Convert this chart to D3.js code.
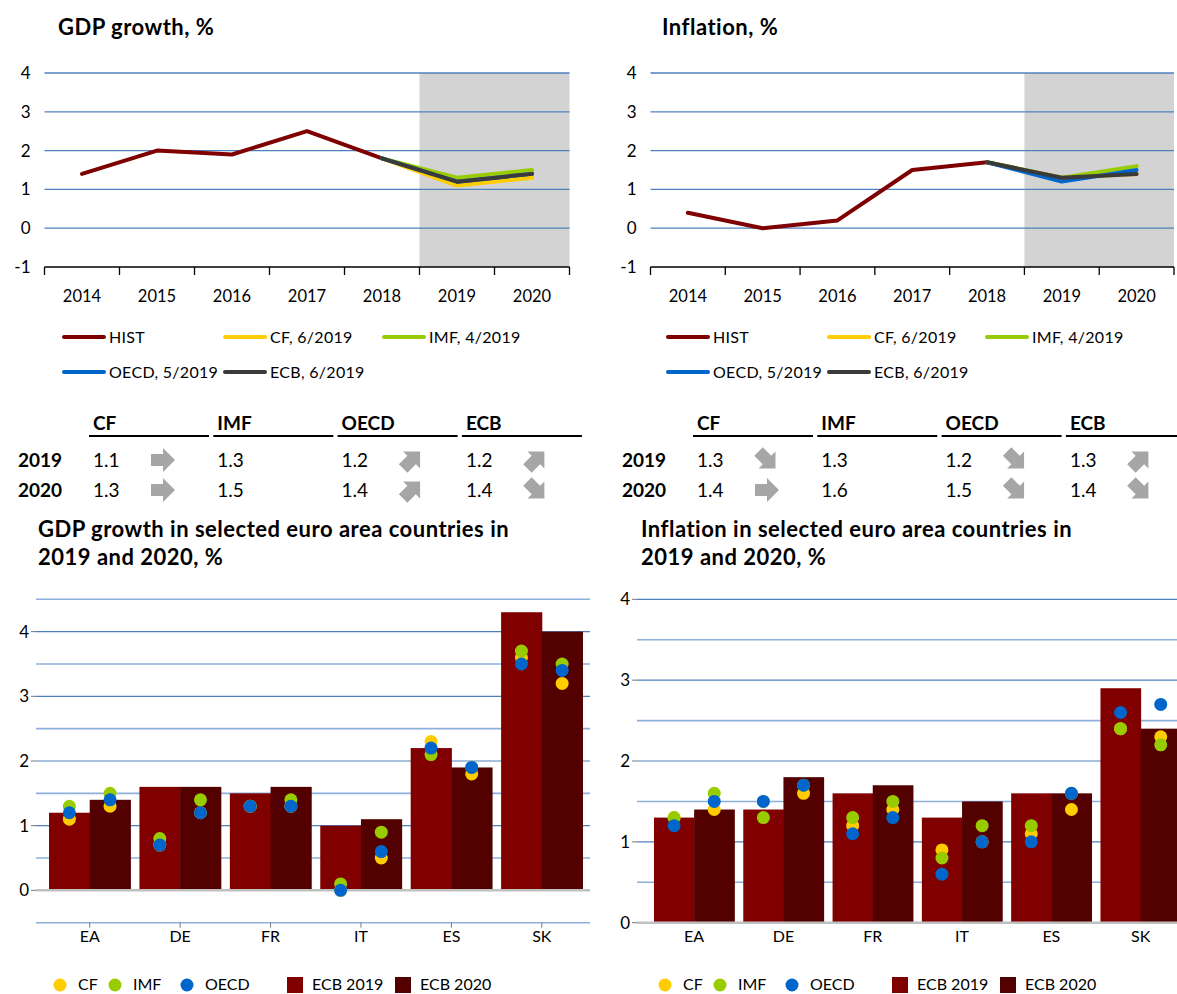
<!DOCTYPE html>
<html>
<head>
<meta charset="utf-8">
<script src="https://cdn.jsdelivr.net/npm/d3@7"></script>
<style>
  body { margin: 0; background: #fff; }
  text { font-family: Lato, "Open Sans", sans-serif; fill: #000; }
</style>
</head>
<body>
<svg id="chart" width="1177" height="994"></svg>
<script>
// line charts
let years = ['2014', '2015', '2016', '2017', '2018', '2019', '2020']
let gdpHist = [1.4, 2.0, 1.9, 2.5, 1.8]
let gdpCF = [1.1, 1.3]
let gdpIMF = [1.3, 1.5]
let gdpOECD = [1.2, 1.4]
let gdpECB = [1.2, 1.4]
let inflHist = [0.4, 0.0, 0.2, 1.5, 1.7]
let inflCF = [1.3, 1.4]
let inflIMF = [1.3, 1.6]
let inflOECD = [1.2, 1.5]
let inflECB = [1.3, 1.4]

// tables
let tableHeads = ['CF', 'IMF', 'OECD', 'ECB']
let tableYears = ['2019', '2020']
let gdpArrows = [['right', null, 'up', 'up'], ['right', null, 'up', 'down']]
let inflArrows = [['down', null, 'down', 'up'], ['right', null, 'down', 'down']]

// bar charts
let countries = ['EA', 'DE', 'FR', 'IT', 'ES', 'SK']
let gdpEcb2019 = [1.2, 1.6, 1.5, 1.0, 2.2, 4.3]
let gdpEcb2020 = [1.4, 1.6, 1.6, 1.1, 1.9, 4.0]
let gdpCF2019 = [1.1, 0.7, 1.3, 0.0, 2.3, 3.6]
let gdpIMF2019 = [1.3, 0.8, 1.3, 0.1, 2.1, 3.7]
let gdpOECD2019 = [1.2, 0.7, 1.3, 0.0, 2.2, 3.5]
let gdpCF2020 = [1.3, 1.2, 1.3, 0.5, 1.8, 3.2]
let gdpIMF2020 = [1.5, 1.4, 1.4, 0.9, 1.9, 3.5]
let gdpOECD2020 = [1.4, 1.2, 1.3, 0.6, 1.9, 3.4]
let inflEcb2019 = [1.3, 1.4, 1.6, 1.3, 1.6, 2.9]
let inflEcb2020 = [1.4, 1.8, 1.7, 1.5, 1.6, 2.4]
let inflCF2019 = [1.3, 1.5, 1.2, 0.9, 1.1, 2.4]
let inflIMF2019 = [1.3, 1.3, 1.3, 0.8, 1.2, 2.4]
let inflOECD2019 = [1.2, 1.5, 1.1, 0.6, 1.0, 2.6]
let inflCF2020 = [1.4, 1.6, 1.4, 1.0, 1.4, 2.3]
let inflIMF2020 = [1.6, 1.7, 1.5, 1.2, 1.6, 2.2]
let inflOECD2020 = [1.5, 1.7, 1.3, 1.0, 1.6, 2.7]

let colors = {
  HIST: '#7f0000', CF: '#ffcc00', IMF: '#99cc00', OECD: '#0066cc', ECB: '#3a3a3a',
  bar2019: '#800000', bar2020: '#520000', grid: '#4f81bd', gridLight: '#8eb0dc'
}

let svg = d3.select('#chart')

function lineChart(o) {
  let x = d3.scaleBand().domain(years).range([o.x0, o.x1])
  let y = d3.scaleLinear().domain([-1, 4]).range([267, 73])
  let g = svg.append('g')

  g.append('text').attr('x', o.titleX).attr('y', 35)
    .attr('font-size', 22).attr('letter-spacing', 0.5).attr('font-weight', 'bold').text(o.title)

  // forecast shading
  g.append('rect').attr('x', x('2019')).attr('y', y(4))
    .attr('width', o.x1 - x('2019')).attr('height', y(-1) - y(4))
    .attr('fill', '#d3d3d3')

  d3.range(0, 5).forEach(v => {
    g.append('line').attr('x1', o.x0).attr('x2', o.x1)
      .attr('y1', y(v)).attr('y2', y(v))
      .attr('stroke', colors.grid).attr('stroke-width', 1.3)
  })
  d3.range(-1, 5).forEach(v => {
    g.append('text').attr('x', o.x0 - 14).attr('y', y(v) + 6)
      .attr('text-anchor', 'end').attr('font-size', 17).text(v)
  })

  g.append('line').attr('x1', o.x0).attr('x2', o.x1)
    .attr('y1', y(-1)).attr('y2', y(-1)).attr('stroke', '#000').attr('stroke-width', 1.3)
  years.concat(['end']).forEach((yr, i) => {
    let xx = o.x0 + i * x.step()
    g.append('line').attr('x1', xx).attr('x2', xx).attr('y1', y(-1)).attr('y2', y(-1) + 8)
      .attr('stroke', '#000').attr('stroke-width', 1.3)
  })
  years.forEach(yr => {
    g.append('text').attr('x', x(yr) + x.bandwidth() / 2).attr('y', 302)
      .attr('text-anchor', 'middle').attr('font-size', 16.5).text(yr)
  })

  let line = d3.line().x(d => x(d[0]) + x.bandwidth() / 2).y(d => y(d[1]))
  let last = [years[4], o.hist[4]]
  let series = [
    ['HIST', o.hist.map((v, i) => [years[i], v])],
    ['CF', [last].concat(o.cf.map((v, i) => [years[5 + i], v]))],
    ['IMF', [last].concat(o.imf.map((v, i) => [years[5 + i], v]))],
    ['OECD', [last].concat(o.oecd.map((v, i) => [years[5 + i], v]))],
    ['ECB', [last].concat(o.ecb.map((v, i) => [years[5 + i], v]))]
  ]
  series.forEach(s => {
    g.append('path').attr('d', line(s[1])).attr('fill', 'none')
      .attr('stroke', colors[s[0]]).attr('stroke-width', 4)
      .attr('stroke-linejoin', 'round').attr('stroke-linecap', 'round')
  })

  // legend
  let leg = [
    ['HIST', 'HIST', 0, 0], ['CF', 'CF, 6/2019', 1, 0], ['IMF', 'IMF, 4/2019', 2, 0],
    ['OECD', 'OECD, 5/2019', 0, 1], ['ECB', 'ECB, 6/2019', 1, 1]
  ]
  leg.forEach(l => {
    let lx = o.legX[l[2]], ly = 337 + l[3] * 35
    g.append('line').attr('x1', lx).attr('x2', lx + 40).attr('y1', ly).attr('y2', ly)
      .attr('stroke', colors[l[0]]).attr('stroke-width', 4).attr('stroke-linecap', 'round')
    g.append('text').attr('x', lx + 45).attr('y', ly + 6).attr('font-size', 16)
      .attr('letter-spacing', 0.3).text(l[1])
  })
}

function arrow(g, cx, cy, dir) {
  let p = 'M-12,-6 L0,-6 L0,-12 L12,0 L0,12 L0,6 L-12,6 Z'
  let rot = dir === 'up' ? -45 : dir === 'down' ? 45 : 0
  g.append('path').attr('d', p).attr('fill', '#a6a6a6')
    .attr('transform', `translate(${cx},${cy}) rotate(${rot})`)
}

function table(o) {
  let g = svg.append('g')
  tableHeads.forEach((h, i) => {
    let cx = o.colX + i * 124.3
    g.append('text').attr('x', cx).attr('y', 430).attr('font-size', 19)
      .attr('font-weight', 'bold').text(h)
    g.append('line').attr('x1', cx - 4).attr('x2', cx + 116).attr('y1', 436).attr('y2', 436)
      .attr('stroke', '#000').attr('stroke-width', 2)
  })
  tableYears.forEach((yr, r) => {
    let ry = 467 + r * 30
    g.append('text').attr('x', o.rowX).attr('y', ry).attr('font-size', 19)
      .attr('font-weight', 'bold').text(yr)
    o.vals[r].forEach((v, i) => {
      let cx = o.colX + i * 124.3
      g.append('text').attr('x', cx).attr('y', ry).attr('font-size', 19).text(v.toFixed(1))
      if (o.arrows[r][i]) arrow(g, cx + 70, ry - 7, o.arrows[r][i])
    })
  })
}

function barChart(o) {
  let x = d3.scaleBand().domain(countries).range([o.bx0, o.bx1])
    .paddingInner(0.1).paddingOuter(0.05)
  let y = d3.scaleLinear().domain(o.domain).range([922.7, 599.3])
  let g = svg.append('g')

  g.append('text').attr('x', o.titleX).attr('y', 537).attr('font-size', 22)
    .attr('letter-spacing', 0.5).attr('font-weight', 'bold').text(o.title[0])
  g.append('text').attr('x', o.titleX).attr('y', 565).attr('font-size', 22)
    .attr('letter-spacing', 0.5).attr('font-weight', 'bold').text(o.title[1])

  d3.range(o.domain[0], o.domain[1] + 0.01, 0.5).forEach(v => {
    if (v === 0) return
    g.append('line').attr('x1', o.gx0).attr('x2', o.gx1).attr('y1', y(v)).attr('y2', y(v))
      .attr('stroke', Number.isInteger(v) ? colors.grid : colors.gridLight)
      .attr('stroke-width', Number.isInteger(v) ? 1.2 : 1.6)
  })
  d3.range(0, 5).forEach(v => {
    g.append('line').attr('x1', o.gx0 - 5).attr('x2', o.gx0).attr('y1', y(v)).attr('y2', y(v))
      .attr('stroke', '#777').attr('stroke-width', 1)
    g.append('text').attr('x', o.gx0 - 7).attr('y', y(v) + 6).attr('text-anchor', 'end')
      .attr('font-size', 17).text(v)
  })

  let sub = d3.scaleBand().domain(['2019', '2020']).range([0, x.bandwidth()])
  let groups = [['2019', o.ecb2019, o.cf2019, o.imf2019, o.oecd2019],
                ['2020', o.ecb2020, o.cf2020, o.imf2020, o.oecd2020]]
  groups.forEach(gr => {
    g.selectAll(null).data(countries).enter().append('rect')
      .attr('x', d => x(d) + sub(gr[0])).attr('width', sub.bandwidth() + 0.5)
      .attr('y', (d, i) => y(gr[1][i])).attr('height', (d, i) => y(0) - y(gr[1][i]))
      .attr('fill', gr[0] === '2019' ? colors.bar2019 : colors.bar2020)
  })
  g.append('line').attr('x1', o.gx0).attr('x2', o.gx1).attr('y1', y(0)).attr('y2', y(0))
    .attr('stroke', '#c0c0c0').attr('stroke-width', 2.5)
  groups.forEach(gr => {
    [['CF', gr[2]], ['IMF', gr[3]], ['OECD', gr[4]]].forEach(s => {
      g.selectAll(null).data(countries).enter().append('circle')
        .attr('cx', d => x(d) + sub(gr[0]) + sub.bandwidth() / 2)
        .attr('cy', (d, i) => y(s[1][i])).attr('r', 6.5).attr('fill', colors[s[0]])
    })
  })

  countries.forEach(c => {
    let cx = x(c) + x.bandwidth() / 2
    if (o.domain[0] < 0) {
      g.append('line').attr('x1', cx).attr('x2', cx).attr('y1', y(o.domain[0]))
        .attr('y2', y(o.domain[0]) + 5).attr('stroke', '#777')
    }
    g.append('text').attr('x', cx).attr('y', 942).attr('text-anchor', 'middle')
      .attr('font-size', 16).text(c)
  })

  // legend
  let lx = o.legX
  ;[['CF', 0], ['IMF', 55], ['OECD', 127]].forEach(l => {
    g.append('circle').attr('cx', lx + l[1]).attr('cy', 985).attr('r', 6.5).attr('fill', colors[l[0]])
    g.append('text').attr('x', lx + l[1] + 18).attr('y', 990).attr('font-size', 16).text(l[0])
  })
  ;[['bar2019', 'ECB 2019', 227], ['bar2020', 'ECB 2020', 335]].forEach(l => {
    g.append('rect').attr('x', lx + l[2]).attr('y', 977).attr('width', 16).attr('height', 16)
      .attr('fill', colors[l[0]])
    g.append('text').attr('x', lx + l[2] + 25).attr('y', 990).attr('font-size', 16).text(l[1])
  })
}

lineChart({title: 'GDP growth, %', titleX: 58, x0: 44.5, x1: 569.5,
  hist: gdpHist, cf: gdpCF, imf: gdpIMF, oecd: gdpOECD, ecb: gdpECB, legX: [64, 225, 384]})
lineChart({title: 'Inflation, %', titleX: 662, x0: 650.5, x1: 1174,
  hist: inflHist, cf: inflCF, imf: inflIMF, oecd: inflOECD, ecb: inflECB, legX: [668, 829, 987]})

table({rowX: 18, colX: 93, arrows: gdpArrows,
  vals: [[gdpCF[0], gdpIMF[0], gdpOECD[0], gdpECB[0]], [gdpCF[1], gdpIMF[1], gdpOECD[1], gdpECB[1]]]})
table({rowX: 622, colX: 697, arrows: inflArrows,
  vals: [[inflCF[0], inflIMF[0], inflOECD[0], inflECB[0]], [inflCF[1], inflIMF[1], inflOECD[1], inflECB[1]]]})

barChart({title: ['GDP growth in selected euro area countries in', '2019 and 2020, %'], titleX: 38,
  domain: [-0.5, 4.5], bx0: 44.5, bx1: 587, gx0: 36, gx1: 590, legX: 60,
  ecb2019: gdpEcb2019, ecb2020: gdpEcb2020, cf2019: gdpCF2019, imf2019: gdpIMF2019, oecd2019: gdpOECD2019,
  cf2020: gdpCF2020, imf2020: gdpIMF2020, oecd2020: gdpOECD2020})
barChart({title: ['Inflation in selected euro area countries in', '2019 and 2020, %'], titleX: 641,
  domain: [0, 4], bx0: 649.5, bx1: 1185.3, gx0: 637, gx1: 1177, legX: 665,
  ecb2019: inflEcb2019, ecb2020: inflEcb2020, cf2019: inflCF2019, imf2019: inflIMF2019, oecd2019: inflOECD2019,
  cf2020: inflCF2020, imf2020: inflIMF2020, oecd2020: inflOECD2020})
</script>
</body>
</html>
